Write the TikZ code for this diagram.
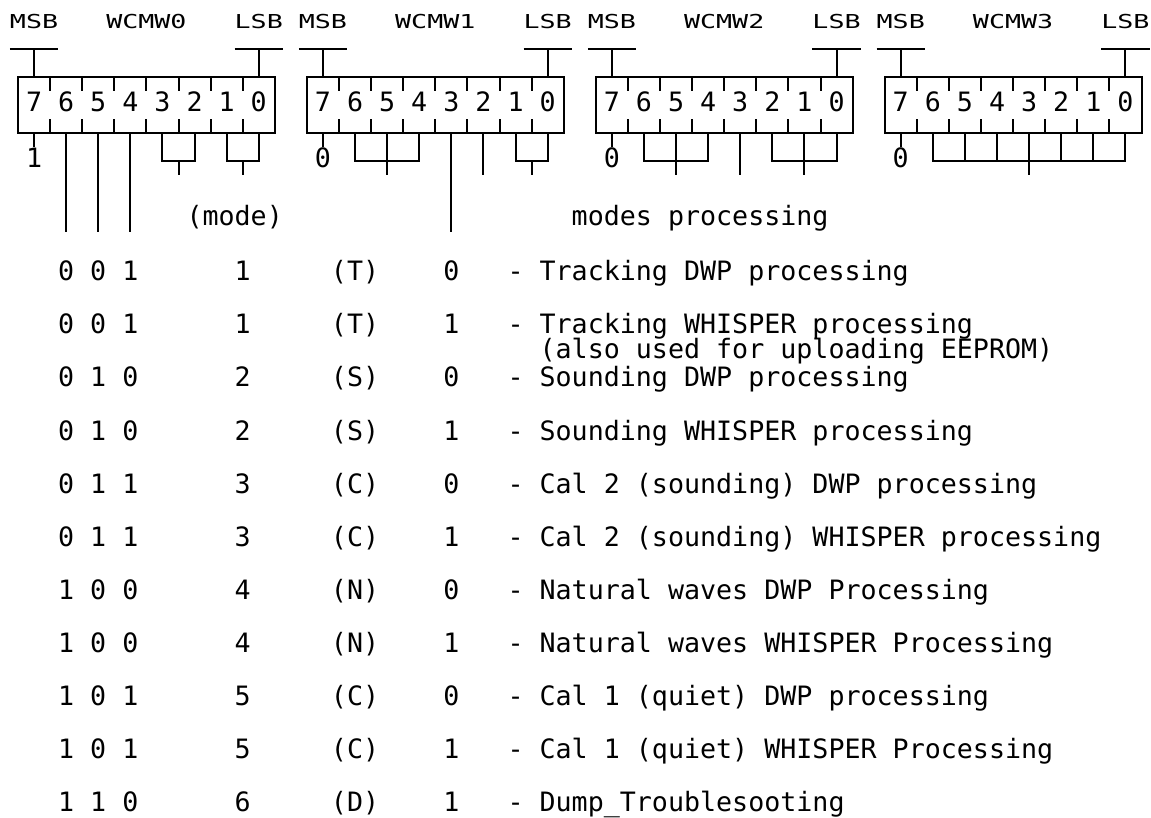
\documentclass[tikz,border=0pt]{standalone}
\usepackage{fontspec}
\usepackage{graphicx}
\newfontfamily\dmono{DejaVu Sans Mono}
\begin{document}
\begin{tikzpicture}[x=16.05pt,y=-1pt]
\useasboundingbox[fill=white] (0,0) rectangle (71.7134,817);
\begin{scope}[xshift=18pt,
  ln/.style={line width=2pt, draw=black},
  t/.style={inner sep=0pt, outer sep=0pt, anchor=base west, text=black,
            font=\dmono\fontsize{26.66pt}{32pt}\selectfont},
  lab/.style={t}]
% ---- the four registers ----
\foreach \b in {0,1,2,3}{
  \pgfmathtruncatemacro\s{18*\b}
  \draw[ln] (\s,77.3) rectangle ({\s+16},132.7);
  \foreach \k in {2,4,...,14}{
    \draw[ln] ({\s+\k},77.3) -- ({\s+\k},90.7);
    \draw[ln] ({\s+\k},132.7) -- ({\s+\k},119.3);
  }
  \foreach \k/\d in {1/7,3/6,5/5,7/4,9/3,11/2,13/1,15/0}{
    \node[t] (w\b-\d) at ({\s+\k-0.5},111.7) {\d};
  }
  \draw[ln] ({\s-0.5},49.3) -- ({\s+2.5},49.3);
  \draw[ln] ({\s+1},49.3) -- ({\s+1},77.3);
  \draw[ln] ({\s+13.5},49.3) -- ({\s+16.5},49.3);
  \draw[ln] ({\s+15},49.3) -- ({\s+15},77.3);
  \node[lab] (msb\b) at ({\s-0.5},28.3) {\scalebox{1}[0.72]{MSB}};
  \node[lab] (name\b) at ({\s+5.5},28.3) {\scalebox{1}[0.72]{WCMW\b}};
  \node[lab] (lsb\b) at ({\s+13.5},28.3) {\scalebox{1}[0.72]{LSB}};
  \draw[ln] ({\s+1},132.7) -- ({\s+1},146.5);
  \node[t] (top\b) at ({\s+0.5},167.3) {\ifnum\b=0 1\else 0\fi};
}
% ---- WCMW0 ----
\foreach \c in {3,5,7,27}{ \draw[ln] (\c,132.7) -- (\c,231.7); }
\draw[ln] (9,132.7) -- (9,161) -- (11,161) -- (11,132.7);
\draw[ln] (10,161) -- (10,175);
\draw[ln] (13,132.7) -- (13,161) -- (15,161) -- (15,132.7);
\draw[ln] (14,161) -- (14,175);
% ---- WCMW1 ----
\draw[ln] (21,132.7) -- (21,161) -- (25,161) -- (25,132.7);
\draw[ln] (23,132.7) -- (23,175);
\draw[ln] (29,132.7) -- (29,175);
\draw[ln] (31,132.7) -- (31,161) -- (33,161) -- (33,132.7);
\draw[ln] (32,161) -- (32,175);
% ---- WCMW2 ----
\draw[ln] (39,132.7) -- (39,161) -- (43,161) -- (43,132.7);
\draw[ln] (41,132.7) -- (41,175);
\draw[ln] (45,132.7) -- (45,175);
\draw[ln] (47,132.7) -- (47,161) -- (51,161) -- (51,132.7);
\draw[ln] (49,132.7) -- (49,175);
% ---- WCMW3 ----
\draw[ln] (57,132.7) -- (57,161) -- (69,161) -- (69,132.7);
\foreach \c in {59,61,65,67}{ \draw[ln] (\c,132.7) -- (\c,161); }
\draw[ln] (63,132.7) -- (63,175);
% ---- headings ----
\node[t] (mode) at (10.5,225) {(mode)};
\node[t] (modes) at (34.5,225) {modes processing};
% ---- table ----
\foreach \i/\bits/\m/\l/\v/\desc in {
  0/0 0 1/1/T/0/Tracking DWP processing,
  1/0 0 1/1/T/1/Tracking WHISPER processing,
  2/0 1 0/2/S/0/Sounding DWP processing,
  3/0 1 0/2/S/1/Sounding WHISPER processing,
  4/0 1 1/3/C/0/Cal 2 (sounding) DWP processing,
  5/0 1 1/3/C/1/Cal 2 (sounding) WHISPER processing,
  6/1 0 0/4/N/0/Natural waves DWP Processing,
  7/1 0 0/4/N/1/Natural waves WHISPER Processing,
  8/1 0 1/5/C/0/Cal 1 (quiet) DWP processing,
  9/1 0 1/5/C/1/Cal 1 (quiet) WHISPER Processing,
  10/1 1 0/6/D/1/Dump\_Troublesooting}{
  \pgfmathsetmacro\yb{280.7+53.1*\i}
  \node[t] (bits\i) at (2.5,\yb) {\bits};
  \node[t] (m\i) at (13.5,\yb) {\m};
  \node[t] (l\i) at (19.5,\yb) {(\l)};
  \node[t] (v\i) at (26.5,\yb) {\v};
  \node[t] (d\i) at (30.5,\yb) {- \desc};
}
\node[t] (also) at (32.5,358) {(also used for uploading EEPROM)};
\end{scope}
\end{tikzpicture}
\end{document}
